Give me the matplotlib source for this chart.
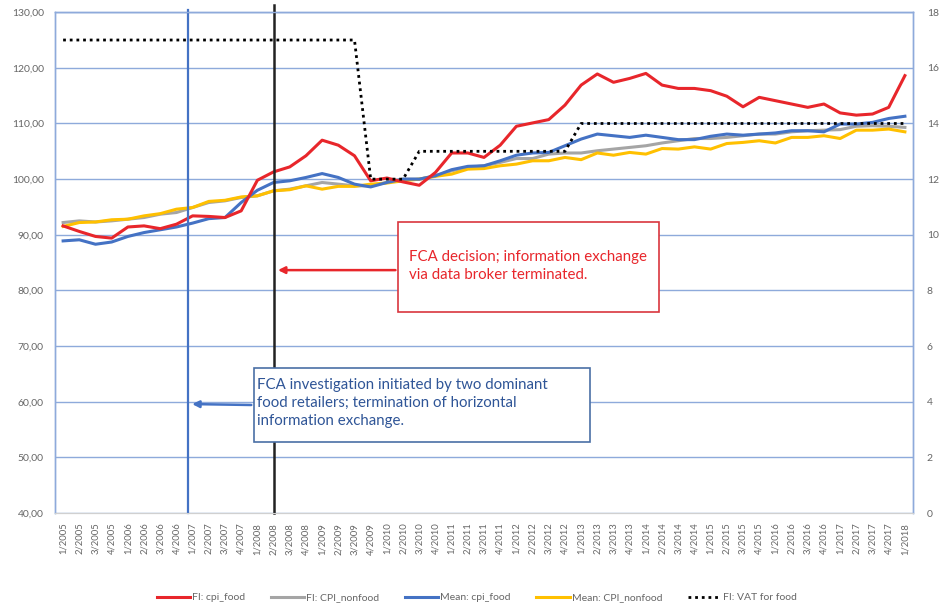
import matplotlib
matplotlib.use("Agg")
import matplotlib.pyplot as plt
from matplotlib.patches import Rectangle

plt.rcParams['font.family'] = ['Lato', 'DejaVu Sans']

# quarterly categories 1/2005 .. 1/2018
quarters = [f"{q}/{y}" for y in range(2005, 2018) for q in range(1, 5)] + ["1/2018"]

fi_cpi_food = [91.6, 90.6, 89.7, 89.4, 91.4, 91.6, 91.1, 91.9, 93.4, 93.3,
               93.1, 94.3, 99.8, 101.3, 102.2, 104.2, 107.0, 106.1, 104.2, 99.7,
               100.2, 99.5, 98.9, 101.2, 104.7, 104.7, 103.9, 106.1, 109.5, 110.1,
               110.7, 113.3, 116.9, 118.9, 117.4, 118.1, 119.0, 116.9, 116.3, 116.3,
               115.9, 114.9, 113.0, 114.7, 114.1, 113.5, 112.9, 113.5, 111.9, 111.5,
               111.7, 112.9, 118.6]
fi_cpi_nonfood = [92.2, 92.5, 92.3, 92.5, 92.8, 93.1, 93.7, 94.0, 94.9, 95.8,
                  96.1, 96.7, 97.0, 97.9, 98.2, 98.8, 99.4, 99.1, 98.8, 98.8,
                  99.4, 100.0, 100.0, 100.6, 101.5, 102.1, 102.4, 103.0, 103.7, 103.7,
                  104.5, 104.7, 104.7, 105.1, 105.4, 105.7, 106.0, 106.5, 106.9, 107.3,
                  107.3, 107.5, 107.8, 108.1, 108.1, 108.5, 108.7, 108.8, 108.9, 109.5,
                  109.6, 109.5, 109.3]
mean_cpi_food = [88.9, 89.1, 88.3, 88.7, 89.7, 90.4, 90.9, 91.4, 92.1, 92.9,
                 93.1, 95.8, 98.0, 99.4, 99.7, 100.3, 101.0, 100.3, 99.1, 98.6,
                 99.4, 100.0, 100.0, 100.6, 101.7, 102.3, 102.4, 103.3, 104.3, 104.7,
                 104.8, 106.0, 107.2, 108.1, 107.8, 107.5, 107.9, 107.5, 107.1, 107.1,
                 107.7, 108.1, 107.9, 108.1, 108.3, 108.7, 108.7, 108.5, 109.9, 109.9,
                 110.2, 110.9, 111.3]
mean_cpi_nonfood = [91.5, 92.2, 92.3, 92.7, 92.8, 93.4, 93.8, 94.6, 94.9, 96.0,
                    96.2, 96.8, 97.0, 97.9, 98.1, 98.8, 98.2, 98.7, 98.7, 99.1,
                    99.3, 99.7, 100.0, 100.5, 100.9, 101.8, 101.9, 102.4, 102.7, 103.3,
                    103.3, 103.9, 103.5, 104.7, 104.3, 104.8, 104.5, 105.5, 105.4, 105.8,
                    105.4, 106.4, 106.6, 106.9, 106.5, 107.5, 107.5, 107.8, 107.3, 108.8,
                    108.8, 109.0, 108.5]
fi_vat_food = [17] * 19 + [12] * 3 + [13] * 10 + [14] * 21

left_ticks = [40, 50, 60, 70, 80, 90, 100, 110, 120, 130]
left_labels = ["40,00", "50,00", "60,00", "70,00", "80,00", "90,00",
               "100,00", "110,00", "120,00", "130,00"]
right_ticks = [0, 2, 4, 6, 8, 10, 12, 14, 16, 18]

investigation_idx = 7.7   # FCA investigation
decision_idx = 13         # FCA decision (2/2008)

RED = "#E8262B"
GREY = "#A5A5A5"
BLUE = "#4472C4"
YELLOW = "#FFC000"
GRID = "#8EAADB"
TICK = "#666666"

fig = plt.figure(figsize=(9.39, 6.10), dpi=100)
ax = fig.add_axes([0.0586, 0.159, 0.9137, 0.821])
ax2 = ax.twinx()

x = list(range(len(quarters)))
ax.plot(x, fi_cpi_food, color=RED, lw=2.2, label="FI: cpi_food", zorder=5)
ax.plot(x, fi_cpi_nonfood, color=GREY, lw=2.2, label="FI: CPI_nonfood", zorder=3)
ax.plot(x, mean_cpi_food, color=BLUE, lw=2.2, label="Mean: cpi_food", zorder=4)
ax.plot(x, mean_cpi_nonfood, color=YELLOW, lw=2.2, label="Mean: CPI_nonfood", zorder=3)
ax2.plot(x, fi_vat_food, color="black", lw=2, ls=(0, (1, 1.4)), label="FI: VAT for food")

ax.set_xlim(-0.5, len(quarters) - 0.5)
ax.set_ylim(40, 130)
ax2.set_ylim(0, 18)
ax.set_yticks(left_ticks)
ax.set_yticklabels(left_labels)
ax2.set_yticks(right_ticks)
ax.set_xticks(x)
ax.set_xticklabels(quarters, rotation=90)

ax.grid(axis="y", color=GRID, lw=1)
ax.set_axisbelow(True)
for a in (ax, ax2):
    for side in ("left", "right", "top"):
        a.spines[side].set_color(GRID)
        a.spines[side].set_linewidth(1)
    a.spines["bottom"].set_color("#D0D0D0")
    a.tick_params(length=0, colors=TICK, labelsize=7.5)
ax.tick_params(axis="x", pad=7, labelsize=6.8)
ax.tick_params(axis="y", pad=8)
ax2.tick_params(axis="y", pad=10)

# event lines
ax.axvline(investigation_idx, ymin=0, ymax=1.004, color=BLUE, lw=1.6, clip_on=False, zorder=6)
ax.axvline(decision_idx, ymin=0, ymax=1.014, color="#222222", lw=1.8, clip_on=False, zorder=6)

# annotation boxes
ax.add_patch(Rectangle((0.400, 0.401), 0.304, 0.180, transform=ax.transAxes,
                       fill=True, facecolor="white", edgecolor="#D9363E", lw=1.2, zorder=7))
ax.text(0.412, 0.494, "FCA decision; information exchange\nvia data broker terminated.",
        transform=ax.transAxes, color=RED, fontsize=10.8, va="center", ha="left",
        linespacing=1.35, zorder=8)
ax.annotate("", xy=(decision_idx + 0.1, 0.485), xycoords=("data", "axes fraction"),
            xytext=(0.400, 0.485), textcoords="axes fraction",
            arrowprops=dict(arrowstyle="-|>", color=RED, lw=1.8, mutation_scale=10), zorder=8)

ax.add_patch(Rectangle((0.232, 0.142), 0.392, 0.147, transform=ax.transAxes,
                       fill=True, facecolor="white", edgecolor="#4A6FA5", lw=1.2, zorder=7))
ax.text(0.2354, 0.2196, "FCA investigation initiated by two dominant\n"
        "food retailers; termination of horizontal\ninformation exchange.",
        transform=ax.transAxes, color="#2F5597", fontsize=10.8, va="center", ha="left",
        linespacing=1.35, zorder=8)
ax.annotate("", xy=(investigation_idx + 0.1, 0.2176), xycoords=("data", "axes fraction"),
            xytext=(0.232, 0.2156), textcoords="axes fraction",
            arrowprops=dict(arrowstyle="-|>", color=BLUE, lw=1.8, mutation_scale=10), zorder=8)

h1, l1 = ax.get_legend_handles_labels()
h2, l2 = ax2.get_legend_handles_labels()
fig.legend(h1 + h2, l1 + l2, loc="center", bbox_to_anchor=(0.508, 0.02), ncol=5,
           frameon=False, fontsize=7.5, handlelength=3.2, columnspacing=2.45,
           handletextpad=0.2, labelcolor=TICK)

fig.savefig("out.png", dpi=100)
